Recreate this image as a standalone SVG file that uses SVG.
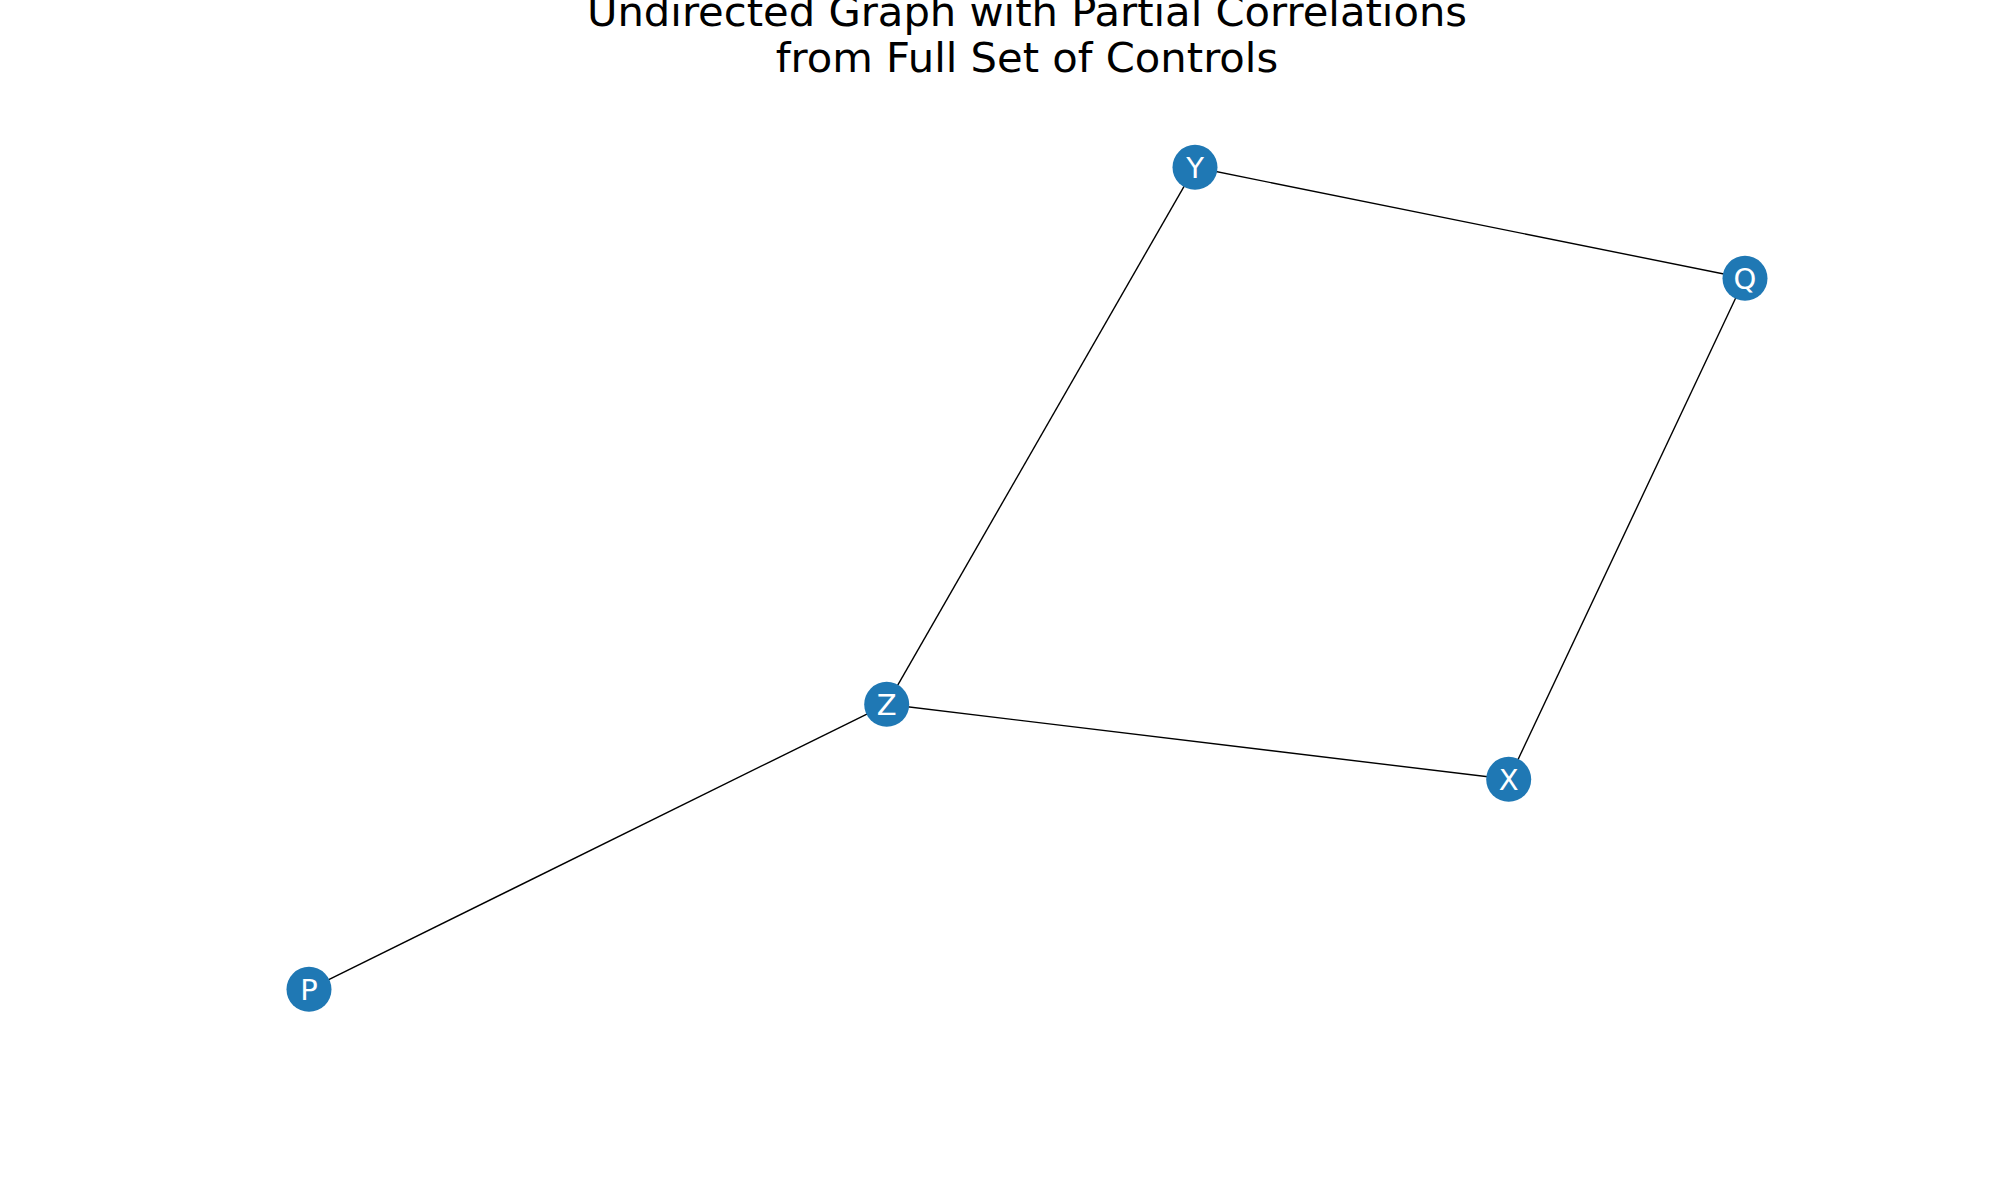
<svg xmlns="http://www.w3.org/2000/svg" width="2000" height="1200" viewBox="0 0 2000 1200">
<style>
.title{font-family:"DejaVu Sans",sans-serif;font-size:41.7px;fill:#000;text-anchor:middle}
.node circle{fill:#1f78b4}
.node text{font-family:"DejaVu Sans",sans-serif;font-size:29px;fill:#fff;text-anchor:middle}
.edges line{stroke:#000;stroke-width:1.4}
</style>
<rect width="2000" height="1200" fill="#fff"/>
<text class="title" x="1027" y="26">Undirected Graph with Partial Correlations</text>
<text class="title" x="1027" y="72">from Full Set of Controls</text>
<g id="edges" class="edges">
<line x1="1195" y1="167.3" x2="1745" y2="278.3"/>
<line x1="1195" y1="167.3" x2="886.7" y2="704.3"/>
<line x1="1745" y1="278.3" x2="1508.7" y2="779.3"/>
<line x1="886.7" y1="704.3" x2="1508.7" y2="779.3"/>
<line x1="886.7" y1="704.3" x2="309" y2="989.3"/>
</g>
<g id="node-Y" class="node"><circle cx="1195" cy="167.3" r="22.5"/><text x="1195" y="177.8">Y</text></g>
<g id="node-Q" class="node"><circle cx="1745" cy="278.3" r="22.5"/><text x="1745" y="288.8">Q</text></g>
<g id="node-Z" class="node"><circle cx="886.7" cy="704.3" r="22.5"/><text x="886.7" y="714.8">Z</text></g>
<g id="node-X" class="node"><circle cx="1508.7" cy="779.3" r="22.5"/><text x="1508.7" y="789.8">X</text></g>
<g id="node-P" class="node"><circle cx="309" cy="989.3" r="22.5"/><text x="309" y="999.8">P</text></g>
</svg>
